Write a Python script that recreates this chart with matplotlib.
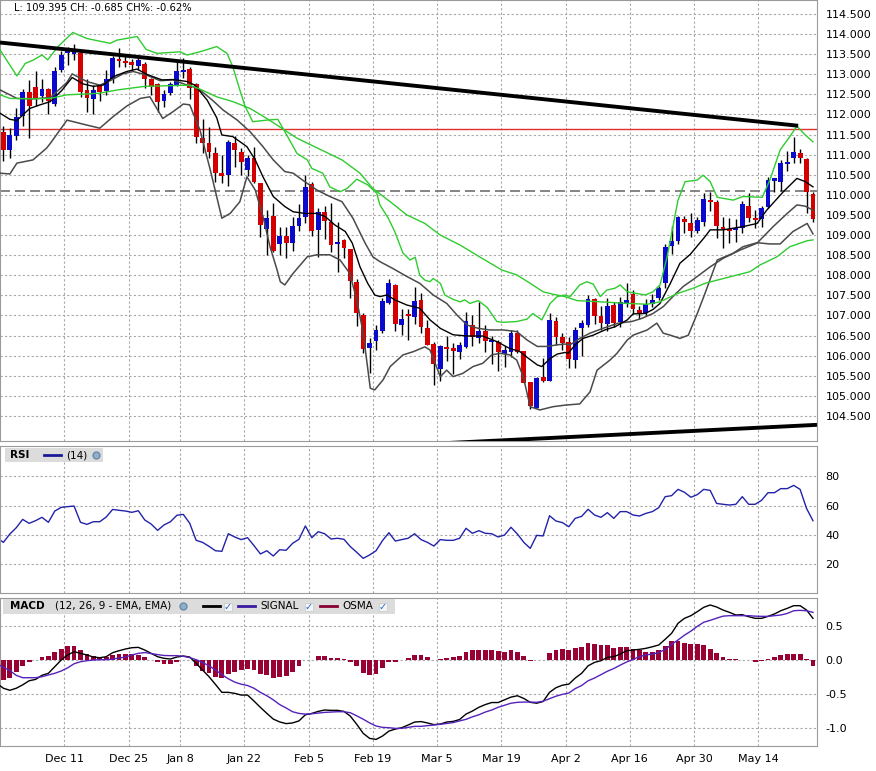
import numpy as np
import matplotlib.pyplot as plt
from matplotlib.lines import Line2D
from matplotlib.patches import Rectangle

# ---- data (x = trading-day index) ----
ohlc = [
    (111.57, 111.71, 110.85, 111.12), (111.12, 111.66, 110.93, 111.49), (111.47, 112.15, 111.37, 111.93),
    (111.95, 112.63, 111.71, 112.56), (112.56, 112.86, 111.41, 112.22), (112.68, 113.07, 112.21, 112.40),
    (112.47, 112.88, 112.32, 112.63), (112.63, 112.66, 112.01, 112.33), (112.26, 113.17, 112.22, 113.07),
    (113.11, 113.59, 113.05, 113.47), (113.54, 113.69, 113.23, 113.60), (113.51, 113.75, 113.36, 113.57),
    (113.54, 113.59, 112.44, 112.56), (112.61, 112.88, 112.06, 112.41), (112.39, 112.73, 112.01, 112.61),
    (112.72, 112.75, 112.34, 112.55), (112.58, 113.11, 112.49, 112.88), (112.88, 113.46, 112.78, 113.41),
    (113.38, 113.65, 113.19, 113.33), (113.33, 113.46, 113.17, 113.27), (113.31, 113.37, 113.11, 113.24),
    (113.21, 113.41, 113.11, 113.36), (113.26, 113.30, 112.65, 112.88), (112.88, 112.90, 112.48, 112.69),
    (112.77, 112.79, 112.07, 112.30), (112.34, 112.61, 112.18, 112.51), (112.53, 112.82, 112.48, 112.76),
    (112.73, 113.30, 112.71, 113.08), (113.06, 113.40, 112.90, 113.11), (113.13, 113.17, 112.38, 112.67),
    (112.77, 112.79, 111.28, 111.45), (111.41, 111.88, 111.03, 111.30), (111.28, 111.70, 110.91, 111.07),
    (111.03, 111.18, 110.33, 110.55), (110.54, 110.99, 110.29, 110.48), (110.50, 111.37, 110.22, 111.32),
    (111.28, 111.46, 110.70, 111.12), (111.06, 111.16, 110.49, 110.83), (110.62, 110.99, 110.47, 110.93),
    (110.92, 111.20, 110.29, 110.33), (110.29, 110.30, 108.96, 109.26), (109.15, 109.62, 108.50, 109.42),
    (109.48, 109.79, 108.59, 108.60), (108.78, 109.21, 108.51, 108.98), (108.98, 109.21, 108.42, 108.81),
    (108.80, 109.46, 108.61, 109.23), (109.23, 109.77, 109.11, 109.42), (109.44, 110.50, 109.29, 110.19),
    (110.27, 110.32, 108.98, 109.11), (109.13, 109.67, 108.46, 109.57), (109.57, 109.72, 108.90, 109.36),
    (109.33, 109.81, 108.59, 108.75), (108.79, 109.33, 108.07, 108.84), (108.88, 108.91, 108.44, 108.68),
    (108.65, 108.66, 107.43, 107.87), (107.83, 107.92, 106.74, 107.05), (107.01, 107.05, 106.06, 106.17),
    (106.20, 106.43, 105.56, 106.32), (106.37, 106.76, 106.13, 106.63), (106.61, 107.43, 106.56, 107.36),
    (107.30, 107.92, 107.29, 107.80), (107.76, 107.78, 106.62, 106.80), (106.77, 107.15, 106.52, 106.91),
    (107.04, 107.17, 106.39, 106.98), (106.97, 107.70, 106.79, 107.36), (107.39, 107.57, 106.57, 106.72),
    (106.68, 106.89, 106.26, 106.27), (106.29, 106.34, 105.27, 105.79), (105.66, 106.27, 105.38, 106.24),
    (106.22, 106.49, 105.88, 106.17), (106.19, 106.32, 105.55, 106.12), (106.08, 106.34, 105.91, 106.26),
    (106.22, 107.08, 106.19, 106.86), (106.76, 107.00, 106.24, 106.47), (106.45, 107.34, 106.31, 106.62),
    (106.62, 106.76, 106.08, 106.37), (106.35, 106.49, 105.79, 106.40), (106.35, 106.39, 105.63, 106.08),
    (106.03, 106.24, 105.71, 106.13), (106.08, 106.64, 105.96, 106.57), (106.57, 106.64, 106.06, 106.10),
    (106.11, 106.12, 105.31, 105.33), (105.35, 105.35, 104.67, 104.75), (104.71, 105.48, 104.69, 105.45),
    (105.47, 105.95, 105.35, 105.38), (105.38, 107.06, 105.37, 106.89), (106.86, 106.97, 106.27, 106.47),
    (106.47, 106.57, 106.14, 106.31), (106.34, 106.47, 105.69, 105.91), (105.89, 106.72, 105.69, 106.64),
    (106.69, 106.89, 105.99, 106.81), (106.76, 107.51, 106.72, 107.40), (107.40, 107.43, 106.79, 106.99),
    (106.99, 107.24, 106.64, 106.81), (106.79, 107.43, 106.62, 107.24), (107.26, 107.34, 106.71, 106.81),
    (106.85, 107.47, 106.72, 107.33), (107.32, 107.80, 107.22, 107.39), (107.54, 107.63, 107.04, 107.15),
    (107.14, 107.24, 106.91, 107.04), (107.05, 107.40, 107.00, 107.29), (107.29, 107.54, 107.22, 107.39),
    (107.43, 107.73, 107.39, 107.68), (107.82, 108.78, 107.68, 108.71), (108.73, 109.23, 108.53, 108.85),
    (108.86, 109.48, 108.78, 109.44), (109.39, 109.48, 109.06, 109.33), (109.29, 109.54, 108.96, 109.09),
    (109.09, 109.46, 109.04, 109.38), (109.33, 110.04, 109.23, 109.90), (109.87, 110.06, 109.61, 109.83),
    (109.82, 109.87, 108.94, 109.23), (109.19, 109.44, 108.67, 109.14), (109.14, 109.42, 108.81, 109.09),
    (109.12, 109.39, 108.84, 109.17), (109.17, 109.85, 109.04, 109.77), (109.72, 110.04, 109.33, 109.43),
    (109.43, 109.62, 109.18, 109.38), (109.40, 109.72, 109.19, 109.68), (109.69, 110.45, 109.67, 110.37),
    (110.34, 110.42, 110.06, 110.42), (110.32, 110.87, 110.10, 110.80), (110.78, 111.09, 110.60, 110.83),
    (110.93, 111.43, 110.80, 111.07), (111.04, 111.13, 110.80, 110.93), (110.89, 110.91, 109.56, 110.08),
    (110.02, 110.08, 109.33, 109.395),
]

green_top = [(-0.5, 113.60), (2.1, 112.96), (3.4, 113.27), (4.6, 113.35), (6.0, 113.48), (6.9, 113.36),
             (8.5, 113.69), (10.8, 114.04), (13.0, 113.89), (16.6, 113.77), (17.7, 113.85), (20.8, 113.94),
             (22.2, 113.62), (23.9, 113.52), (27.5, 113.56), (28.6, 113.48), (30.6, 113.56), (33.2, 113.69),
             (34.8, 113.52), (35.7, 113.19), (36.8, 112.61), (37.6, 112.21), (38.8, 111.82), (41.0, 111.86),
             (42.7, 111.88), (43.5, 111.66), (45.7, 111.03), (47.3, 110.87), (48.0, 110.66), (49.7, 110.54),
             (50.8, 110.20), (52.4, 110.08), (53.5, 110.16), (55.0, 110.39), (56.7, 110.25), (58.1, 110.04),
             (58.6, 109.75), (59.9, 109.42), (60.9, 109.09), (62.2, 108.55), (63.3, 108.38), (64.1, 108.45),
             (64.8, 108.00), (65.6, 107.88), (66.4, 107.84), (66.9, 107.92), (68.0, 107.80), (68.7, 107.51),
             (70.0, 107.40), (71.1, 107.34), (71.8, 107.39), (72.6, 107.30), (73.9, 107.37), (75.3, 107.20),
             (76.8, 106.85), (77.8, 106.83), (79.9, 106.85), (81.5, 106.91), (82.4, 107.05), (83.8, 106.89),
             (85.1, 107.30), (86.2, 107.47), (87.4, 107.51), (88.2, 107.47), (89.7, 107.76), (90.8, 107.84),
             (91.8, 107.78), (92.9, 107.47), (93.9, 107.63), (95.2, 107.68), (96.0, 107.76), (97.1, 107.59),
             (98.5, 107.55), (99.9, 107.51), (101.1, 107.59), (102.2, 107.76), (103.3, 108.46), (104.2, 109.21),
             (105.0, 109.87), (106.1, 110.33), (107.2, 110.35), (108.0, 110.37), (108.9, 110.49), (110.0, 110.33),
             (111.1, 109.94), (113.6, 109.87), (115.1, 109.96), (118.1, 109.94), (119.3, 110.37), (120.9, 111.12),
             (122.4, 111.45), (123.5, 111.71), (124.8, 111.49), (126.0, 111.32)]

green_low = [(-0.5, 112.49), (1.0, 112.40), (4.6, 112.39), (7.3, 112.40), (9.9, 112.49), (13.0, 112.51),
             (15.0, 112.53), (17.7, 112.61), (22.0, 112.70), (29.0, 112.73), (30.9, 112.61), (33.2, 112.44),
             (35.7, 112.32), (38.4, 112.15), (41.0, 111.90), (43.8, 111.61), (45.7, 111.41), (52.7, 110.87),
             (55.5, 110.54), (57.5, 110.16), (60.2, 109.83), (62.8, 109.50), (65.6, 109.29), (68.0, 109.00),
             (71.1, 108.75), (74.2, 108.45), (77.6, 108.13), (79.9, 108.01), (82.0, 107.80), (84.0, 107.59),
             (85.5, 107.53), (87.4, 107.47), (89.3, 107.37), (92.9, 107.34), (97.1, 107.30), (100.2, 107.28),
             (102.2, 107.34), (104.8, 107.54), (107.4, 107.68), (109.2, 107.80), (111.1, 107.88), (116.2, 108.09),
             (117.8, 108.26), (120.4, 108.46), (122.4, 108.71), (125.1, 108.86), (126.0, 108.88)]

black_ma = [(-0.5, 112.03), (1.0, 111.88), (2.1, 111.85), (4.1, 112.15), (5.7, 112.24), (7.3, 112.32),
            (9.1, 112.60), (10.7, 112.92), (12.4, 112.76), (14.0, 112.70), (15.5, 112.73), (17.1, 112.94),
            (19.2, 113.07), (20.8, 113.13), (22.3, 113.00), (23.3, 112.94), (24.7, 112.86), (26.4, 112.87),
            (28.6, 112.82), (29.8, 112.73), (31.7, 112.36), (33.2, 111.92), (34.0, 111.49), (35.7, 111.45),
            (37.9, 111.20), (39.2, 110.87), (40.4, 110.45), (42.0, 109.96), (43.8, 109.71), (45.1, 109.58),
            (46.9, 109.54), (48.8, 109.54), (50.1, 109.46), (51.6, 109.25), (53.2, 109.09), (54.3, 108.80),
            (55.5, 108.21), (56.7, 107.80), (57.8, 107.51), (58.6, 107.47), (59.7, 107.51), (60.9, 107.39),
            (62.8, 107.26), (64.8, 107.18), (66.4, 106.89), (68.0, 106.68), (70.0, 106.52), (72.2, 106.49),
            (74.6, 106.49), (76.8, 106.35), (78.8, 106.18), (80.4, 106.10), (81.5, 105.96), (83.1, 105.77),
            (83.8, 105.73), (85.1, 105.93), (86.2, 106.04), (87.4, 106.08), (87.9, 106.06), (89.0, 106.27),
            (90.2, 106.43), (91.8, 106.51), (93.6, 106.64), (95.2, 106.72), (97.1, 106.89), (98.0, 107.04),
            (99.9, 107.05), (101.1, 107.15), (102.2, 107.30), (103.8, 107.80), (105.3, 108.30), (106.9, 108.52),
            (108.1, 108.75), (109.2, 108.96), (110.0, 109.13), (112.0, 109.13), (115.1, 109.21), (117.3, 109.29),
            (118.8, 109.62), (121.4, 110.08), (123.5, 110.41), (124.8, 110.33), (126.0, 110.20)]

grey_up = [(-0.5, 112.61), (2.1, 112.40), (4.6, 112.39), (7.3, 112.42), (9.9, 112.80), (10.7, 113.01),
           (13.0, 112.82), (15.0, 112.73), (16.6, 112.84), (18.6, 113.01), (20.2, 113.07), (22.3, 112.98),
           (24.4, 112.84), (26.4, 112.86), (28.6, 112.73), (30.3, 112.65), (32.5, 112.36), (34.2, 112.11),
           (36.4, 111.86), (38.4, 111.57), (40.4, 111.20), (42.0, 110.87), (43.8, 110.58), (45.1, 110.54),
           (46.9, 110.33), (48.8, 110.12), (50.8, 109.96), (52.7, 109.83), (54.4, 109.42), (56.3, 108.80),
           (57.5, 108.46), (58.6, 108.34), (60.6, 108.17), (62.8, 107.97), (64.8, 107.80), (66.9, 107.51),
           (69.0, 107.30), (70.6, 107.01), (72.2, 106.76), (73.9, 106.68), (75.7, 106.64), (77.8, 106.64),
           (79.9, 106.60), (81.5, 106.39), (83.1, 106.23), (84.6, 106.23), (86.2, 106.27), (87.4, 106.29),
           (88.2, 106.27), (89.7, 106.43), (91.3, 106.56), (93.3, 106.68), (95.7, 106.81), (97.8, 106.85),
           (99.4, 106.93), (101.1, 107.05), (102.7, 107.22), (104.2, 107.47), (105.8, 107.72), (107.4, 107.90),
           (110.0, 108.21), (112.0, 108.42), (114.7, 108.63), (117.3, 108.80), (119.8, 109.21), (122.0, 109.54),
           (123.5, 109.75), (124.8, 109.72), (126.0, 109.62)]

grey_low = [(-0.5, 110.54), (1.0, 110.52), (2.1, 110.79), (4.6, 110.87), (6.7, 111.16), (7.3, 111.28),
            (9.9, 111.86), (12.9, 111.74), (15.0, 111.66), (17.1, 111.95), (19.2, 112.21), (21.3, 112.40),
            (22.8, 112.44), (24.8, 111.90), (26.4, 112.07), (28.0, 112.26), (29.0, 112.24), (30.6, 111.61),
            (32.2, 110.62), (34.0, 109.42), (35.3, 109.54), (36.8, 109.83), (37.9, 110.45), (39.2, 110.12),
            (40.4, 109.46), (41.5, 108.71), (42.6, 108.13), (43.1, 107.84), (43.8, 107.76), (45.1, 108.05),
            (47.3, 108.46), (48.8, 108.51), (50.8, 108.51), (52.4, 108.38), (53.9, 108.05), (55.0, 107.39),
            (56.0, 106.56), (57.1, 105.19), (57.8, 105.15), (59.1, 105.40), (60.2, 105.73), (62.2, 106.02),
            (63.8, 106.10), (65.6, 106.22), (66.4, 106.14), (68.0, 105.48), (69.0, 105.64), (70.0, 105.48),
            (71.5, 105.56), (73.1, 105.73), (74.6, 105.81), (76.0, 106.02), (77.3, 106.06), (78.8, 106.02),
            (79.9, 105.89), (80.9, 105.48), (82.0, 104.73), (83.5, 104.65), (85.5, 104.73), (87.4, 104.77),
            (89.7, 104.80), (91.3, 105.10), (92.4, 105.64), (94.4, 105.89), (95.5, 106.06), (97.1, 106.39),
            (98.0, 106.51), (100.2, 106.64), (101.7, 106.81), (102.7, 106.56), (103.8, 106.51), (105.3, 106.43),
            (106.6, 106.51), (108.0, 107.05), (109.2, 107.55), (111.1, 108.38), (113.6, 108.55), (115.1, 108.71),
            (117.3, 108.81), (119.3, 108.78), (120.9, 108.78), (122.9, 109.09), (125.1, 109.29), (126.0, 109.03)]

trend_top = [(-0.53, 113.79), (123.7, 111.72)]
trend_bottom = [(69.5, 103.83), (126.63, 104.28)]
resist_level = 111.63
prev_close = 110.10

# RSI(14), MACD, signal: index -1 .. 126 ; OSMA: index 0 .. 126
rsi = [38.0, 34.9, 40.6, 44.9, 50.6, 47.9, 49.7, 52.0, 48.6, 56.3, 58.8, 59.3, 59.7, 48.6, 47.2, 49.0, 49.0,
       52.2, 57.4, 56.8, 56.3, 55.4, 56.5, 50.2, 47.4, 43.1, 46.8, 49.0, 53.4, 54.0, 47.9, 36.3, 34.9, 32.2,
       29.2, 28.8, 40.8, 38.6, 36.8, 38.1, 32.7, 27.0, 29.2, 25.6, 29.9, 29.5, 34.2, 37.0, 46.1, 38.1, 42.2,
       40.8, 37.2, 37.7, 37.0, 32.0, 28.1, 24.0, 26.3, 29.2, 36.1, 41.5, 35.8, 36.8, 37.7, 40.8, 36.8, 34.9,
       32.4, 36.8, 36.3, 36.3, 37.7, 44.5, 41.1, 42.9, 41.1, 40.8, 38.6, 39.9, 45.2, 40.6, 34.9, 30.8, 39.7,
       39.3, 53.1, 49.5, 48.4, 45.6, 51.3, 52.7, 57.5, 53.6, 52.0, 55.2, 51.3, 55.9, 55.9, 53.6, 52.9, 54.7,
       55.9, 58.6, 66.1, 66.8, 71.1, 69.1, 65.7, 67.5, 71.1, 70.4, 61.5, 60.9, 60.4, 60.9, 66.1, 60.9, 60.9,
       63.6, 68.8, 68.8, 71.6, 71.6, 73.8, 71.1, 58.1, 49.7]

macd = [-0.35, -0.42, -0.45, -0.42, -0.37, -0.31, -0.29, -0.23, -0.20, -0.103, -0.005, 0.069, 0.118, 0.093,
        0.069, 0.039, 0.029, 0.044, 0.103, 0.132, 0.157, 0.176, 0.181, 0.142, 0.093, 0.044, 0.020, 0.010,
        0.039, 0.054, 0.039, -0.054, -0.152, -0.250, -0.363, -0.48, -0.48, -0.495, -0.52, -0.52, -0.608,
        -0.701, -0.789, -0.873, -0.915, -0.94, -0.93, -0.90, -0.81, -0.79, -0.76, -0.74, -0.745, -0.745,
        -0.76, -0.83, -0.951, -1.083, -1.157, -1.172, -1.123, -1.05, -1.02, -1.0, -0.96, -0.917, -0.91,
        -0.93, -0.955, -0.946, -0.917, -0.907, -0.88, -0.80, -0.755, -0.70, -0.66, -0.63, -0.63, -0.59,
        -0.55, -0.53, -0.57, -0.627, -0.64, -0.615, -0.48, -0.412, -0.375, -0.36, -0.27, -0.20, -0.09,
        -0.04, -0.015, 0.034, 0.044, 0.083, 0.132, 0.142, 0.152, 0.167, 0.19, 0.216, 0.30, 0.388, 0.535,
        0.608, 0.647, 0.706, 0.77, 0.804, 0.775, 0.73, 0.696, 0.657, 0.662, 0.632, 0.608, 0.608, 0.637,
        0.672, 0.72, 0.755, 0.794, 0.794, 0.73, 0.608]

signal = [-0.06, -0.11, -0.16, -0.23, -0.265, -0.265, -0.265, -0.25, -0.225, -0.20, -0.166, -0.12, -0.06,
          -0.03, -0.015, -0.005, 0.0, 0.0, 0.01, 0.025, 0.039, 0.07, 0.093, 0.105, 0.09, 0.075, 0.062, 0.059,
          0.059, 0.05, 0.03, 0.0, -0.04, -0.09, -0.15, -0.22, -0.28, -0.33, -0.36, -0.38, -0.42, -0.48, -0.53,
          -0.59, -0.66, -0.71, -0.765, -0.79, -0.80, -0.795, -0.785, -0.775, -0.77, -0.765, -0.765, -0.78,
          -0.826, -0.875, -0.93, -0.975, -0.995, -1.0, -1.01, -1.01, -0.995, -0.98, -0.98, -0.97, -0.96,
          -0.95, -0.937, -0.925, -0.90, -0.877, -0.84, -0.81, -0.77, -0.74, -0.70, -0.67, -0.64, -0.627,
          -0.623, -0.623, -0.627, -0.61, -0.574, -0.537, -0.51, -0.49, -0.425, -0.38, -0.31, -0.27, -0.22,
          -0.17, -0.13, -0.08, -0.034, 0.005, 0.044, 0.07, 0.083, 0.105, 0.15, 0.225, 0.29, 0.36, 0.42, 0.49,
          0.55, 0.578, 0.61, 0.64, 0.647, 0.647, 0.647, 0.647, 0.64, 0.637, 0.637, 0.647, 0.657, 0.68, 0.72,
          0.725, 0.72, 0.696]

osma = [-0.30, -0.265, -0.186, -0.088, -0.04, 0.0, 0.04, 0.054, 0.118, 0.157, 0.20, 0.20, 0.142, 0.078,
        0.049, 0.03, 0.044, 0.069, 0.083, 0.083, 0.083, 0.069, 0.044, 0.0, -0.04, -0.06, -0.06, -0.03, 0.0,
        -0.01, -0.10, -0.167, -0.20, -0.25, -0.275, -0.216, -0.176, -0.157, -0.13, -0.15, -0.21, -0.23,
        -0.265, -0.25, -0.24, -0.176, -0.10, 0.0, 0.0, 0.054, 0.049, 0.025, 0.025, 0.01, -0.03, -0.10,
        -0.19, -0.225, -0.21, -0.12, -0.03, -0.03, 0.0, 0.03, 0.069, 0.069, 0.039, 0.0, 0.01, 0.03, 0.044,
        0.059, 0.118, 0.142, 0.142, 0.142, 0.142, 0.132, 0.118, 0.142, 0.118, 0.054, -0.015, 0.0, 0.0,
        0.093, 0.142, 0.157, 0.137, 0.17, 0.186, 0.245, 0.23, 0.216, 0.216, 0.17, 0.186, 0.186, 0.157,
        0.142, 0.113, 0.113, 0.142, 0.206, 0.28, 0.28, 0.245, 0.23, 0.23, 0.216, 0.157, 0.093, 0.04, 0.01,
        0.01, 0.0, 0.0, -0.03, -0.015, 0.01, 0.04, 0.069, 0.083, 0.083, 0.083, 0.01, -0.09]

date_idx = [10, 20, 28, 38, 48, 58, 68, 78, 88, 98, 108, 118]
date_labels = ['Dec 11', 'Dec 25', 'Jan 8', 'Jan 22', 'Feb 5', 'Feb 19',
               'Mar 5', 'Mar 19', 'Apr 2', 'Apr 16', 'Apr 30', 'May 14']

# ---- figure ----
W, H = 876, 771
fig = plt.figure(figsize=(W / 100, H / 100), dpi=100)
fig.patch.set_facecolor('white')


def fbox(x0, y0, x1, y1):
    return [x0 / W, 1 - y1 / H, (x1 - x0) / W, (y1 - y0) / H]


def fp(x, y):
    return x / W, 1 - y / H


ax_p = fig.add_axes(fbox(0, 0, 817, 441))
ax_r = fig.add_axes(fbox(0, 446, 817, 593), sharex=ax_p)
ax_m = fig.add_axes(fbox(0, 598, 817, 746), sharex=ax_p)

grid_kw = dict(color='#a8a8a8', linestyle=(0, (2, 2)), linewidth=0.8)
for ax in (ax_p, ax_r, ax_m):
    for s in ax.spines.values():
        s.set_color('#9a9a9a')
    ax.yaxis.tick_right()
    ax.tick_params(axis='y', length=0, pad=6, labelsize=8)
    ax.tick_params(axis='x', length=0)
    ax.set_xticks([i - 0.5 for i in date_idx])
    ax.grid(True, **grid_kw)
    ax.set_axisbelow(True)
ax_p.set_xlim(-0.53, 126.63)
plt.setp(ax_p.get_xticklabels(), visible=False)
plt.setp(ax_r.get_xticklabels(), visible=False)
ax_m.set_xticklabels(date_labels, fontsize=8)
ax_m.tick_params(axis='x', pad=6)

# price panel
op, hi, lo, cl = [np.array(v) for v in zip(*ohlc)]
idx = np.arange(len(op))
up = cl >= op
body_lo = np.minimum(op, cl)
body_h = np.maximum(np.abs(cl - op), 0.03)
ax_p.vlines(idx, lo, hi, color='black', lw=1.0, zorder=3)
ax_p.bar(idx[up], body_h[up], bottom=body_lo[up], width=0.75, color='#0a0acc', zorder=4)
ax_p.bar(idx[~up], body_h[~up], bottom=body_lo[~up], width=0.75, color='#d40000', zorder=4)

for pts, col, lw in [(grey_low, '#4a4a4a', 1.1), (grey_up, '#4a4a4a', 1.1), (black_ma, '#000000', 1.0),
                     (green_low, '#2fcc2f', 1.0), (green_top, '#2fcc2f', 1.0)]:
    xs, ys = zip(*pts)
    ax_p.plot(xs, ys, color=col, lw=lw, zorder=5)

ax_p.axhline(resist_level, color='#e03030', lw=1.0, zorder=2)
ax_p.axhline(prev_close, color='#707070', lw=1.2, ls=(0, (6, 3)), zorder=2)
for pts in (trend_top, trend_bottom):
    xs, ys = zip(*pts)
    ax_p.plot(xs, ys, color='black', lw=2.8, solid_capstyle='butt', zorder=6)

ax_p.set_ylim(114.848 - 441 / 40.2, 114.848)
ax_p.set_yticks(np.arange(104.5, 114.51, 0.5))
ax_p.yaxis.set_major_formatter(plt.FormatStrFormatter('%.3f'))
ax_p.text(14 / 817, 1 - 8 / 441, 'L: 109.395 CH: -0.685 CH%: -0.62%', transform=ax_p.transAxes,
          fontsize=7.2, va='center', ha='left', zorder=10)

# RSI panel
ax_r.plot(np.arange(-1, len(rsi) - 1), rsi, color='#2222aa', lw=1.0)
ax_r.set_ylim(0.34, 100.7)
ax_r.set_yticks([20, 40, 60, 80])

# MACD panel
osma = np.array(osma)
ax_m.bar(np.arange(len(osma)), osma, width=0.75, color='#990033', zorder=2)
ax_m.plot(np.arange(-1, len(macd) - 1), macd, color='black', lw=1.0, zorder=3)
ax_m.plot(np.arange(-1, len(signal) - 1), signal, color='#5522bb', lw=1.0, zorder=3)
ax_m.set_ylim(-1.269, 0.907)
ax_m.set_yticks([-1.0, -0.5, 0.0, 0.5])
ax_m.yaxis.set_major_formatter(plt.FormatStrFormatter('%.1f'))


# ---- panel headers ----
def header_box(x0, y0, x1, y1):
    fig.add_artist(Rectangle(fp(x0, y1), (x1 - x0) / W, (y1 - y0) / H, transform=fig.transFigure,
                             facecolor='#dcdcdc', edgecolor='none', zorder=5))


def seg(x0, x1, y, col):
    fig.add_artist(Line2D([x0 / W, x1 / W], [1 - y / H] * 2, transform=fig.transFigure,
                          color=col, lw=2.0, zorder=6))


def globe(x, y):
    fig.add_artist(Line2D([x / W], [1 - y / H], transform=fig.transFigure, marker='o', ms=5,
                          mfc='#8fb0cc', mec='#6a8aa8', zorder=6))


def check(x, y):
    fig.add_artist(Rectangle(fp(x - 4, y + 4), 8 / W, 8 / H, transform=fig.transFigure,
                             facecolor='#f4f4f4', edgecolor='#c8c8c8', lw=0.5, zorder=6))
    fig.text(*fp(x, y), '\u2713', color='#1a66d6', fontsize=7, fontweight='bold',
             ha='center', va='center', zorder=7)


header_box(5, 448, 103, 462)
fig.text(*fp(10, 455), 'RSI', fontsize=7.5, fontweight='bold', va='center', zorder=7)
seg(44, 61, 455, '#1a1a99')
fig.text(*fp(66, 455), '(14)', fontsize=7.5, va='center', zorder=7)
globe(96, 455)

header_box(3, 599, 395, 614)
fig.text(*fp(10, 606), 'MACD', fontsize=7.5, fontweight='bold', va='center', zorder=7)
fig.text(*fp(55, 606), '(12, 26, 9 - EMA, EMA)', fontsize=7.5, va='center', zorder=7)
globe(183, 606)
seg(203, 220, 606, 'black')
check(228, 607)
seg(238, 255, 606, '#3a1aa0')
fig.text(*fp(260, 606), 'SIGNAL', fontsize=7.5, va='center', zorder=7)
check(309, 607)
seg(320, 337, 606, '#880033')
fig.text(*fp(342, 606), 'OSMA', fontsize=7.5, va='center', zorder=7)
check(383, 607)

fig.savefig('out.png', dpi=100, facecolor='white')
